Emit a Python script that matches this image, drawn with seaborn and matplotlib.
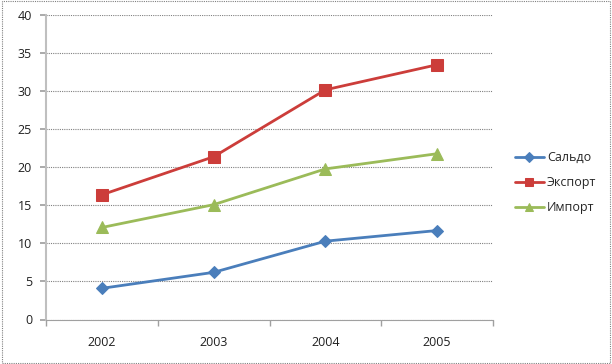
import numpy as np
import pandas as pd
import matplotlib.pyplot as plt
import seaborn as sns
from matplotlib.patches import Rectangle

years = ["2002", "2003", "2004", "2005"]
saldo = [4.1, 6.2, 10.3, 11.7]
export = [16.4, 21.4, 30.2, 33.5]
imports = [12.1, 15.1, 19.8, 21.8]

series_names = ["Сальдо", "Экспорт", "Импорт"]
series_values = [saldo, export, imports]
series_colors = ["#4a7ebb", "#cc3d3a", "#9bbb59"]
series_markers = ["D", "s", "^"]
marker_sizes = [6, 8, 8]

sns.set_theme(style="white")
plt.rcParams["font.family"] = ["Open Sans", "DejaVu Sans"]

fig = plt.figure(figsize=(6.12, 3.64), dpi=100)
ax = fig.add_axes([46 / 612, 1 - 319.5 / 364, (493 - 46) / 612, (319.5 - 15.3) / 364])

positions = np.arange(len(years))
for name, values, color, marker, msize in zip(
    series_names, series_values, series_colors, series_markers, marker_sizes
):
    frame = pd.DataFrame({"pos": positions, "value": values})
    sns.lineplot(
        data=frame,
        x="pos",
        y="value",
        ax=ax,
        color=color,
        marker=marker,
        markersize=msize,
        markeredgecolor=color,
        linewidth=2,
        label=name,
    )

ax.set_xlim(-0.5, len(years) - 0.5)
ax.set_ylim(0, 40)
ax.set_yticks(range(0, 41, 5))
ax.set_xticks(positions)
ax.set_xticklabels(years)
ax.set_xticks(np.arange(-0.5, len(years)), minor=True)
ax.set_xlabel("")
ax.set_ylabel("")

ax.grid(axis="y", color="#808080", linestyle=(0, (1, 1)), linewidth=0.8)
ax.set_axisbelow(True)
for side in ["top", "right"]:
    ax.spines[side].set_visible(False)
ax.spines["left"].set_color("#bfbfbf")
ax.spines["left"].set_linewidth(1.5)
ax.spines["bottom"].set_color("#a0a0a0")
ax.spines["bottom"].set_linewidth(0.8)

ax.tick_params(axis="y", which="major", length=4, color="#a0a0a0", labelsize=9,
               labelcolor="#202020", left=True, pad=6)
ax.tick_params(axis="x", which="major", length=0, labelsize=9, labelcolor="#202020", pad=12)
ax.tick_params(axis="x", which="minor", length=4, color="#a0a0a0", bottom=True)

legend = ax.legend(
    loc="center left",
    bbox_to_anchor=(1.049, 0.45),
    frameon=False,
    fontsize=9,
    borderaxespad=0,
    borderpad=0,
    handlelength=2.3,
    handletextpad=0.25,
    labelspacing=0.95,
    markerscale=0.8,
)

fig.patches.append(
    Rectangle((0.003, 0.004), 0.994, 0.992, transform=fig.transFigure, fill=False,
              edgecolor="#808080", linewidth=0.8, linestyle=(0, (1, 1)))
)

fig.savefig("out.png", dpi=100)
